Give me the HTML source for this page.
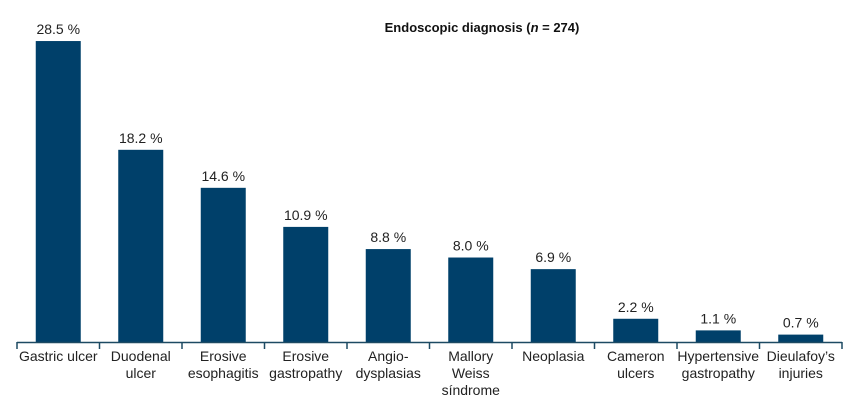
<!DOCTYPE html>
<html><head><meta charset="utf-8"><style>
body{margin:0;background:#fff;}
svg{display:block;font-family:"Liberation Sans",Arial,sans-serif;}
</style></head><body>
<svg id="chart" width="859" height="410" viewBox="0 0 859 410">
<text x="482" y="32" text-anchor="middle" font-size="13" font-weight="bold" fill="#111">Endoscopic diagnosis (<tspan font-style="italic">n</tspan> = 274)</text>
<g id="bars"></g>
</svg>
<script>
const categories=[["Gastric ulcer"],["Duodenal","ulcer"],["Erosive","esophagitis"],["Erosive","gastropathy"],["Angio-","dysplasias"],["Mallory","Weiss","síndrome"],["Neoplasia"],["Cameron","ulcers"],["Hypertensive","gastropathy"],["Dieulafoy’s","injuries"]];
const values=[28.5,18.2,14.6,10.9,8.8,8.0,6.9,2.2,1.1,0.7];
const valueLabels=["28.5 %","18.2 %","14.6 %","10.9 %","8.8 %","8.0 %","6.9 %","2.2 %","1.1 %","0.7 %"];
const svg=document.getElementById('chart');
const NS='http://www.w3.org/2000/svg';
const x0=17,x1=842,baseY=342,pxPer=10.56,step=(x1-x0)/categories.length,bw=45;
function xc(i){return x0+step*(i+0.5);}
function y(v){return baseY-v*pxPer;}
function mk(t,a){const e=document.createElementNS(NS,t);for(const k in a)e.setAttribute(k,a[k]);svg.appendChild(e);return e;}
values.forEach((v,i)=>{
  const r=mk('rect',{x:xc(i)-bw/2,y:y(v),width:bw,height:baseY-y(v),fill:'#00406a'});
  
  
  const t=mk('text',{x:xc(i),y:y(v)-7,'text-anchor':'middle','font-size':'14',fill:'#222'});
  t.textContent=valueLabels[i];
  
  
  const l=mk('text',{x:xc(i),y:361,'text-anchor':'middle','font-size':'14',fill:'#222'});
  
  
  categories[i].forEach((s,j)=>{const ts=document.createElementNS(NS,'tspan');ts.setAttribute('x',xc(i));ts.setAttribute('dy',j?17:0);ts.textContent=s;l.appendChild(ts);});
});
const ax=mk('line',{x1:x0,x2:x1,y1:baseY+0.5,y2:baseY+0.5,stroke:'#1d4a63','stroke-width':1.5});


for(let i=0;i<=categories.length;i++){
  const tk=mk('line',{x1:x0+step*i,x2:x0+step*i,y1:baseY,y2:baseY+7,stroke:'#1d4a63','stroke-width':1.5});
  
  
}
</script>
</body></html>
